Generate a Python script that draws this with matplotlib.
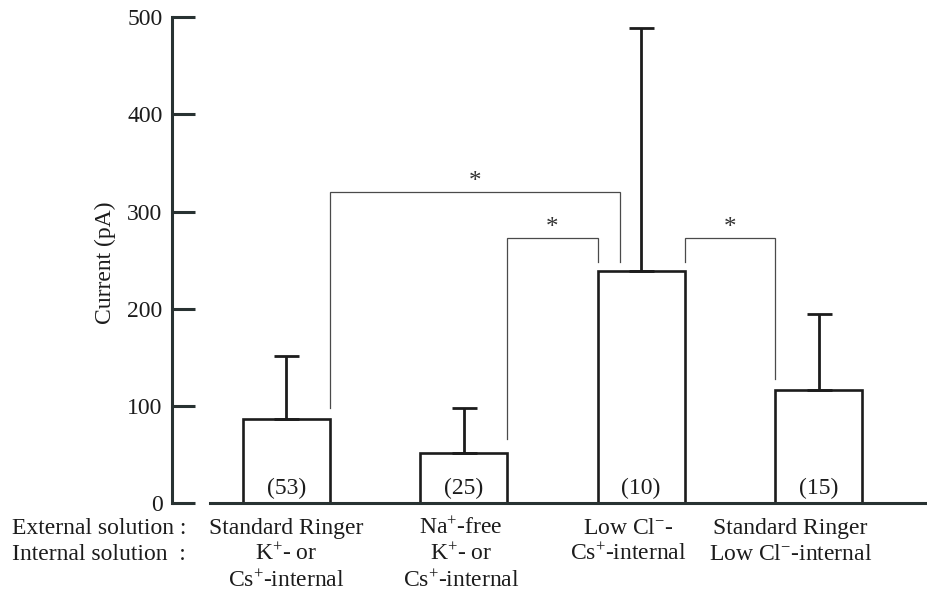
from matplotlib import pyplot as plt
from matplotlib import transforms
import numpy as np

plt.rcParams['font.family'] = ['Liberation Serif', 'DejaVu Serif']
plt.rcParams['mathtext.fontset'] = 'custom'
plt.rcParams['mathtext.rm'] = 'Liberation Serif'
plt.rcParams['mathtext.it'] = 'Liberation Serif:italic'

# data
n_cells = ['(53)', '(25)', '(10)', '(15)']
means = [87, 52, 239, 117]
err_up = [65, 46, 250, 78]

external = ['Standard Ringer', 'Na$^{+}$-free', 'Low Cl$^{-}$-', 'Standard Ringer']
internal = [['K$^{+}$- or', 'Cs$^{+}$-internal'],
            ['K$^{+}$- or', 'Cs$^{+}$-internal'],
            ['Cs$^{+}$-internal'],
            ['Low Cl$^{-}$-internal']]

# significance brackets: (bar a, bar b), bracket height, leg ends
pairs = [(0, 2), (1, 2), (2, 3)]
bracket_top = [320, 273, 273]
leg_ends = [(98, 248), (66, 248), (248, 128)]

ink = '#1c1c1c'
axis_col = '#283232'
width = 0.492

fig = plt.figure(figsize=(9.28, 5.96), dpi=100)
ax = fig.add_axes([0.1857, 0.1555, 0.8143, 0.8155])

x = np.arange(len(means))
ax.bar(x, means, width=width, facecolor='white', edgecolor=ink, linewidth=1.9, zorder=2)
ax.errorbar(x, means, yerr=[np.zeros(len(means)), err_up], fmt='none',
            ecolor=ink, elinewidth=2.0, capsize=9, capthick=2.0, zorder=3)

for xi, lab in zip(x, n_cells):
    ax.text(xi, 9.5, lab, ha='center', va='baseline', fontsize=17, color=ink)

# brackets
half = width / 2
for (a, b), top, (ya, yb) in zip(pairs, bracket_top, leg_ends):
    xa = a + half
    xb = b - half
    if b - a > 1:
        xb = b - 0.12
    ax.plot([xa, xa, xb, xb], [ya, top, top, yb], color='#4a4a4a', lw=0.9,
            solid_joinstyle='miter', zorder=1)
    ax.text((xa + xb) / 2, top + 4, '*', ha='center', va='baseline',
            fontsize=18, color='#333333')

ax.set_xlim(-0.643, 3.617)
ax.set_ylim(0, 500)
ax.set_yticks([0, 100, 200, 300, 400, 500])
ax.set_xticks([])
ax.tick_params(axis='y', direction='in', length=16.5, width=2.2, color=axis_col,
               labelsize=17, pad=7, labelcolor=ink)

for s in ['top', 'right']:
    ax.spines[s].set_visible(False)
for s in ['left', 'bottom']:
    ax.spines[s].set_linewidth(2.2)
    ax.spines[s].set_color(axis_col)
ax.spines['left'].set_bounds(0, 500)
ax.spines['bottom'].set_bounds(-0.431, 3.617)

fig.text(105 / 928, 1 - 263 / 596, 'Current (pA)', rotation=90, ha='center',
         va='center', fontsize=17, color=ink)

# row labels under the axis
rows_y = [1 - 534.3 / 596, 1 - 560 / 596, 1 - 586.7 / 596]
fig.text(186 / 928, rows_y[0], 'External solution :', ha='right', va='baseline',
         fontsize=17, color=ink)
fig.text(186 / 928, rows_y[1], 'Internal solution  :', ha='right', va='baseline',
         fontsize=17, color=ink)

label_x = [0, 0.984, 1.926, 2.84]
trans = transforms.blended_transform_factory(ax.transData, fig.transFigure)
for lx, ext, intl in zip(label_x, external, internal):
    ax.text(lx, rows_y[0], ext, transform=trans, ha='center', va='baseline',
            fontsize=17, color=ink)
    for i, line in enumerate(intl):
        ax.text(lx, rows_y[1 + i], line, transform=trans, ha='center',
                va='baseline', fontsize=17, color=ink)

fig.savefig('out.png', dpi=100)
